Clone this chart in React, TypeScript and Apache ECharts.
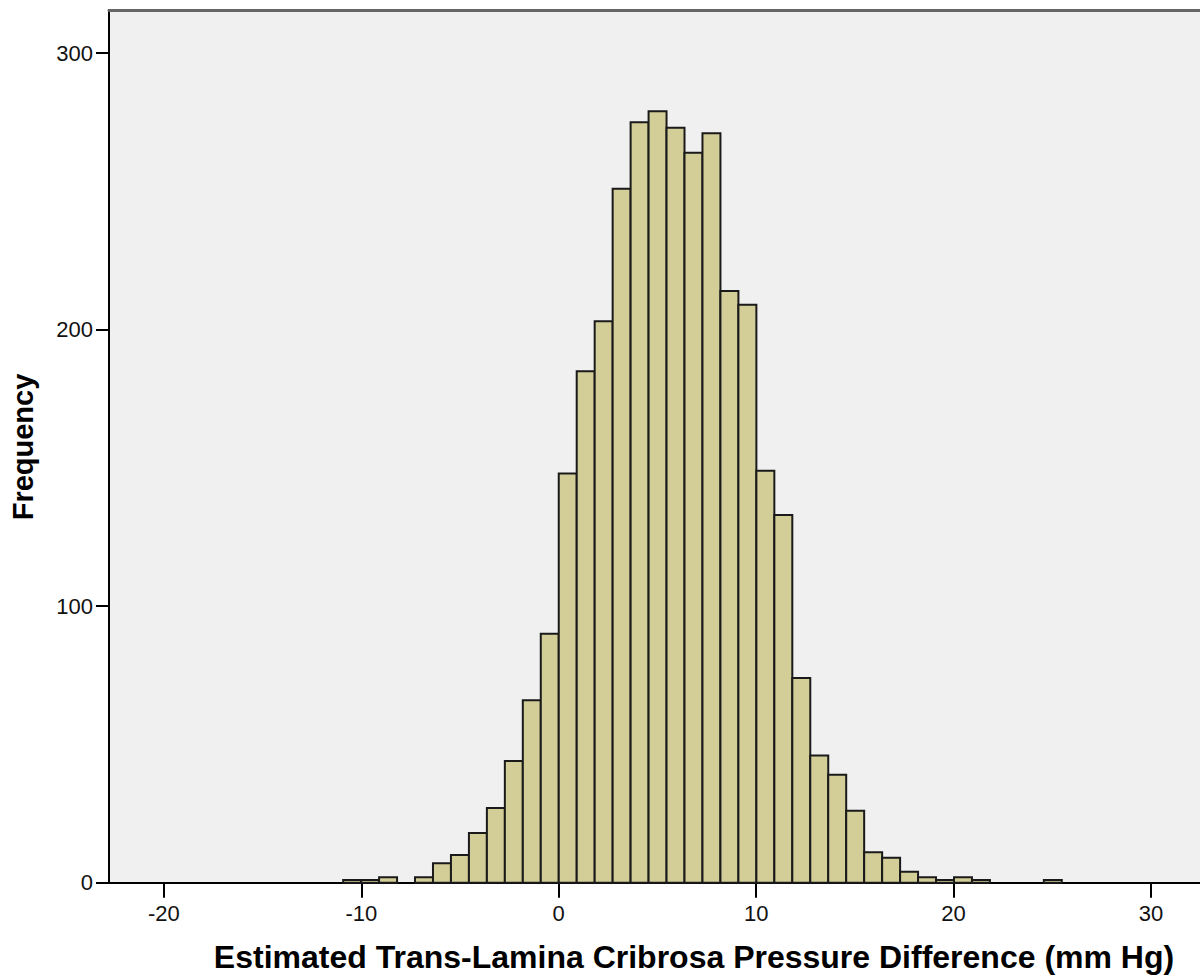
import React, { useEffect, useRef } from "react";
import * as echarts from "echarts";

// Histogram bins: lower edges (mm Hg) and counts, bin width 0.91
const BIN_WIDTH = 0.91;
const binStarts = [
  -10.92, -10.01, -9.1, -8.19, -7.28, -6.37, -5.46, -4.55, -3.64, -2.73,
  -1.82, -0.91, 0, 0.91, 1.82, 2.73, 3.64, 4.55, 5.46, 6.37,
  7.28, 8.19, 9.1, 10.01, 10.92, 11.83, 12.74, 13.65, 14.56, 15.47,
  16.38, 17.29, 18.2, 19.11, 20.02, 20.93, 21.84, 22.75, 23.66, 24.57,
];
const counts = [
  1, 1, 2, 0, 2, 7, 10, 18, 27, 44,
  66, 90, 148, 185, 203, 251, 275, 279, 273, 264,
  271, 214, 209, 149, 133, 74, 46, 39, 26, 11,
  9, 4, 2, 1, 2, 1, 0, 0, 0, 1,
];
const xTicks = [-20, -10, 0, 10, 20, 30];
const yTicks = [0, 100, 200, 300];
const xTitle = "Estimated Trans-Lamina Cribrosa Pressure Difference (mm Hg)";
const yTitle = "Frequency";

const FONT = "'Liberation Sans', Arial, sans-serif";

export default function App() {
  const ref = useRef<HTMLDivElement>(null);
  useEffect(() => {
    if (!ref.current) return;
    const chart = echarts.init(ref.current, undefined, { renderer: "svg" });
    const data = binStarts
      .map((s, i) => [s, s + BIN_WIDTH, counts[i]])
      .filter((d) => d[2] > 0);
    const xMin = -22.78;
    const xMax = 32.48;
    chart.setOption({
      animation: false,
      backgroundColor: "#ffffff",
      grid: {
        left: 109,
        right: -2,
        top: 10,
        bottom: 94.3,
        show: true,
        backgroundColor: "#F0F0F0",
        borderWidth: 0,
      },
      xAxis: [
        {
          type: "value",
          min: xMin,
          max: xMax,
          position: "bottom",
          splitLine: { show: false },
          axisLine: { show: true, onZero: false, lineStyle: { color: "#000", width: 2 } },
          axisTick: {
            show: true,
            length: 15,
            customValues: xTicks,
            lineStyle: { color: "#000", width: 2 },
          },
          axisLabel: {
            customValues: xTicks,
            fontFamily: FONT,
            fontSize: 22,
            color: "#111",
            margin: 20,
          },
        },
        {
          type: "value",
          min: xMin,
          max: xMax,
          position: "top",
          splitLine: { show: false },
          axisLine: { show: true, onZero: false, lineStyle: { color: "#666", width: 3 } },
          axisTick: { show: false },
          axisLabel: { show: false },
        },
      ],
      yAxis: {
        type: "value",
        min: 0,
        max: 315.6,
        position: "left",
        splitLine: { show: false },
        axisLine: { show: true, onZero: false, lineStyle: { color: "#000", width: 2 } },
        axisTick: {
          show: true,
          length: 13,
          customValues: yTicks,
          lineStyle: { color: "#000", width: 2 },
        },
        axisLabel: {
          customValues: yTicks,
          fontFamily: FONT,
          fontSize: 22,
          color: "#111",
          margin: 16,
        },
      },
      series: [
        {
          type: "custom",
          xAxisIndex: 0,
          yAxisIndex: 0,
          data,
          encode: { x: [0, 1], y: 2 },
          renderItem: (params: any, api: any) => {
            const x0 = api.value(0);
            const x1 = api.value(1);
            const y = api.value(2);
            const p0 = api.coord([x0, y]);
            const p1 = api.coord([x1, 0]);
            return {
              type: "rect",
              shape: {
                x: p0[0],
                y: p0[1],
                width: p1[0] - p0[0],
                height: p1[1] - p0[1],
              },
              style: {
                fill: "#D3CE97",
                stroke: "#1a1a1a",
                lineWidth: 2,
              },
            };
          },
        },
      ],
      graphic: [
        {
          type: "text",
          x: 694,
          y: 957,
          style: {
            text: xTitle,
            font: `bold 32px ${FONT}`,
            fill: "#000",
            textAlign: "center",
            textVerticalAlign: "middle",
          },
        },
        {
          type: "text",
          x: 23,
          y: 447,
          rotation: Math.PI / 2,
          style: {
            text: yTitle,
            font: `bold 29px ${FONT}`,
            fill: "#000",
            textAlign: "center",
            textVerticalAlign: "middle",
          },
        },
      ],
    });
    return () => chart.dispose();
  }, []);
  return (
    <div
      ref={ref}
      style={{ position: "absolute", left: 0, top: 0, width: 1200, height: 977 }}
    />
  );
}
